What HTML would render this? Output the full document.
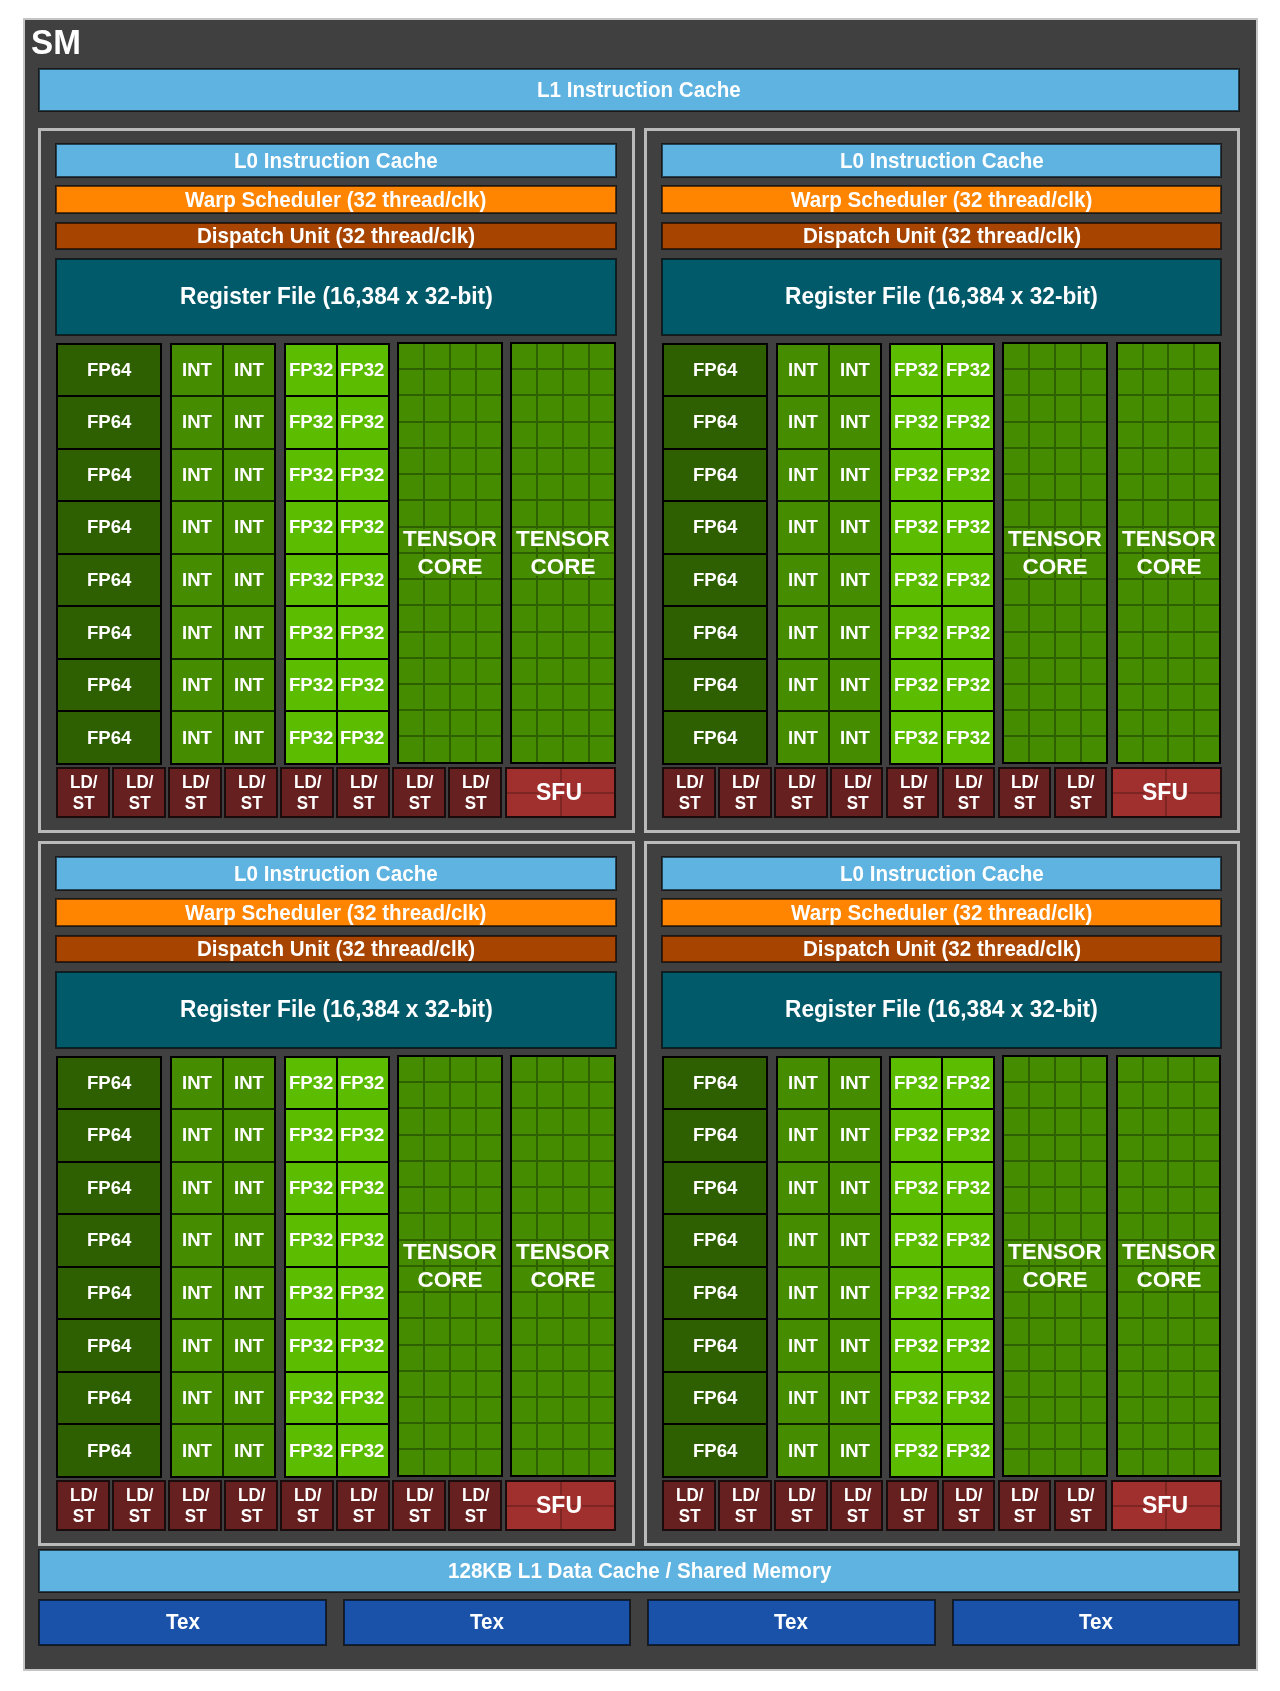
<!DOCTYPE html>
<html><head><meta charset="utf-8"><title>SM</title>
<style>
*{margin:0;padding:0;box-sizing:border-box}
html,body{width:1280px;height:1691px;background:#fff;overflow:hidden}
body{position:relative;font-family:"Liberation Sans",sans-serif;font-weight:bold;color:#fff}
div{position:absolute}
span,.tl,.smt{will-change:transform}
span{transform:scaleY(1.04)}
.sm{left:22.5px;top:18.1px;width:1235.6px;height:1653.1px;background:#404040;border:2px solid #c4c4c4}
.smt{left:31.0px;top:21.7px;font-size:33.2px;line-height:38px;transform:scaleY(1.06);transform-origin:0 0}
.quad{border:3px solid #bababa}
.bar{border:1px solid rgba(0,0,0,.6);background-clip:padding-box;box-shadow:inset 0 0 0 1px rgba(0,0,0,.62);display:flex;align-items:center;justify-content:center;white-space:nowrap}
.bar span{position:relative;display:inline-block}
.b-blue{background-color:#5fb3e1}
.b-orange{background-color:#ff8400}
.b-brown{background-color:#a64400}
.b-teal{background-color:#005a6a}
.b-tex{background-color:#1a52aa}
.t20{font-size:20.6px}
.t22{font-size:22.7px}
.ucol,.ucol2{border:2px solid #000;background:#000;display:grid;grid-template-rows:repeat(8,1fr);row-gap:2px}
.ucol{grid-template-columns:1fr}
.ucol2{grid-template-columns:1fr 1fr;column-gap:2px}
.ucol>div,.ucol2>div{position:static;display:flex;align-items:center;justify-content:center}
.fp64>div{background:#2e5f00}
.int{background:#0f2200}
.int>div{background:#468c00}
.fp32{background:#000}
.fp32>div{background:#5cbd00}
.u{font-size:18.6px;position:relative;top:0px;transform:scaleY(1.02)}
.ui{font-size:18.6px}
.tensor{border:2px solid #000;background:#468c00}
.tg{position:absolute;left:0;top:0;right:0;bottom:0;display:grid;grid-template-columns:repeat(4,1fr);grid-template-rows:repeat(16,1fr);gap:2px;background:#2e6000}
.tg i{background:#468c00}
.tl{left:0;right:0;top:180.8px;transform:scaleY(1.02);text-align:center;font-size:22.5px;line-height:27.6px;text-shadow:1.5px 0px 0 #468c00,-1.5px 0px 0 #468c00,0px 1.5px 0 #468c00,0px -1.5px 0 #468c00,1px 1px 0 #468c00,-1px 1px 0 #468c00,1px -1px 0 #468c00,-1px -1px 0 #468c00}
.ldst{border:2px solid #1a0c0c;background:#672020;display:flex;align-items:center;justify-content:center;text-align:center;font-size:17px;line-height:20.1px}
.sfu{border:2px solid #1a0c0c;background:#a0302e;display:flex;align-items:center;justify-content:center;font-size:23px}
.sg{position:absolute;left:0;top:0;right:0;bottom:0;display:grid;grid-template-columns:1fr 1fr;grid-template-rows:1fr 1fr;gap:2px;background:#7c2522}
.sg i{background:#a0302e}
.sfu span{position:relative;left:-1.5px;text-shadow:1.5px 0px 0 #a0302e,-1.5px 0px 0 #a0302e,0px 1.5px 0 #a0302e,0px -1.5px 0 #a0302e,1px 1px 0 #a0302e,-1px 1px 0 #a0302e,1px -1px 0 #a0302e,-1px -1px 0 #a0302e}
</style></head><body>
<div class="sm"></div>
<div class="smt">SM</div>
<div class="bar b-blue" style="left:38.10px;top:68.10px;width:1202.30px;height:43.50px;"><span class="t20">L1 Instruction Cache</span></div>

<div class="quad" style="left:38.10px;top:128.10px;width:597.00px;height:705.00px;"></div>
<div class="bar b-blue" style="left:55.10px;top:143.40px;width:561.60px;height:34.70px;"><span class="t20">L0 Instruction Cache</span></div>
<div class="bar b-orange" style="left:55.10px;top:185.30px;width:561.60px;height:28.50px;"><span class="t20">Warp Scheduler (32 thread/clk)</span></div>
<div class="bar b-brown" style="left:55.10px;top:221.90px;width:561.60px;height:27.90px;"><span class="t20">Dispatch Unit (32 thread/clk)</span></div>
<div class="bar b-teal" style="left:55.10px;top:258.10px;width:561.60px;height:77.50px;"><span class="t22">Register File (16,384 x 32-bit)</span></div>
<div class="ucol fp64" style="left:56.25px;top:342.50px;width:105.90px;height:422.40px;"><div><span class="u">FP64</span></div><div><span class="u">FP64</span></div><div><span class="u">FP64</span></div><div><span class="u">FP64</span></div><div><span class="u">FP64</span></div><div><span class="u">FP64</span></div><div><span class="u">FP64</span></div><div><span class="u">FP64</span></div></div>
<div class="ucol2 int" style="left:170.00px;top:342.50px;width:105.90px;height:422.40px;"><div><span class="u ui">INT</span></div><div><span class="u ui">INT</span></div><div><span class="u ui">INT</span></div><div><span class="u ui">INT</span></div><div><span class="u ui">INT</span></div><div><span class="u ui">INT</span></div><div><span class="u ui">INT</span></div><div><span class="u ui">INT</span></div><div><span class="u ui">INT</span></div><div><span class="u ui">INT</span></div><div><span class="u ui">INT</span></div><div><span class="u ui">INT</span></div><div><span class="u ui">INT</span></div><div><span class="u ui">INT</span></div><div><span class="u ui">INT</span></div><div><span class="u ui">INT</span></div></div>
<div class="ucol2 fp32" style="left:283.80px;top:342.50px;width:105.90px;height:422.40px;"><div><span class="u">FP32</span></div><div><span class="u">FP32</span></div><div><span class="u">FP32</span></div><div><span class="u">FP32</span></div><div><span class="u">FP32</span></div><div><span class="u">FP32</span></div><div><span class="u">FP32</span></div><div><span class="u">FP32</span></div><div><span class="u">FP32</span></div><div><span class="u">FP32</span></div><div><span class="u">FP32</span></div><div><span class="u">FP32</span></div><div><span class="u">FP32</span></div><div><span class="u">FP32</span></div><div><span class="u">FP32</span></div><div><span class="u">FP32</span></div></div>
<div class="tensor" style="left:396.70px;top:341.90px;width:105.90px;height:421.80px;"><div class="tg"><i></i><i></i><i></i><i></i><i></i><i></i><i></i><i></i><i></i><i></i><i></i><i></i><i></i><i></i><i></i><i></i><i></i><i></i><i></i><i></i><i></i><i></i><i></i><i></i><i></i><i></i><i></i><i></i><i></i><i></i><i></i><i></i><i></i><i></i><i></i><i></i><i></i><i></i><i></i><i></i><i></i><i></i><i></i><i></i><i></i><i></i><i></i><i></i><i></i><i></i><i></i><i></i><i></i><i></i><i></i><i></i><i></i><i></i><i></i><i></i><i></i><i></i><i></i><i></i></div><div class="tl">TENSOR<br>CORE</div></div>
<div class="tensor" style="left:509.90px;top:341.90px;width:105.90px;height:421.80px;"><div class="tg"><i></i><i></i><i></i><i></i><i></i><i></i><i></i><i></i><i></i><i></i><i></i><i></i><i></i><i></i><i></i><i></i><i></i><i></i><i></i><i></i><i></i><i></i><i></i><i></i><i></i><i></i><i></i><i></i><i></i><i></i><i></i><i></i><i></i><i></i><i></i><i></i><i></i><i></i><i></i><i></i><i></i><i></i><i></i><i></i><i></i><i></i><i></i><i></i><i></i><i></i><i></i><i></i><i></i><i></i><i></i><i></i><i></i><i></i><i></i><i></i><i></i><i></i><i></i><i></i></div><div class="tl">TENSOR<br>CORE</div></div>
<div class="ldst" style="left:56.40px;top:767.40px;width:53.60px;height:50.70px;"><span style="position:relative;left:0.6px">LD/<br>ST</span></div>
<div class="ldst" style="left:112.35px;top:767.40px;width:53.60px;height:50.70px;"><span style="position:relative;left:0.6px">LD/<br>ST</span></div>
<div class="ldst" style="left:168.30px;top:767.40px;width:53.60px;height:50.70px;"><span style="position:relative;left:0.6px">LD/<br>ST</span></div>
<div class="ldst" style="left:224.25px;top:767.40px;width:53.60px;height:50.70px;"><span style="position:relative;left:0.6px">LD/<br>ST</span></div>
<div class="ldst" style="left:280.20px;top:767.40px;width:53.60px;height:50.70px;"><span style="position:relative;left:0.6px">LD/<br>ST</span></div>
<div class="ldst" style="left:336.15px;top:767.40px;width:53.60px;height:50.70px;"><span style="position:relative;left:0.6px">LD/<br>ST</span></div>
<div class="ldst" style="left:392.10px;top:767.40px;width:53.60px;height:50.70px;"><span style="position:relative;left:0.6px">LD/<br>ST</span></div>
<div class="ldst" style="left:448.05px;top:767.40px;width:53.60px;height:50.70px;"><span style="position:relative;left:0.6px">LD/<br>ST</span></div>
<div class="sfu" style="left:505.30px;top:767.40px;width:110.60px;height:50.70px;"><div class="sg"><i></i><i></i><i></i><i></i></div><span>SFU</span></div>
<div class="quad" style="left:643.75px;top:128.10px;width:596.30px;height:705.00px;"></div>
<div class="bar b-blue" style="left:660.75px;top:143.40px;width:561.60px;height:34.70px;"><span class="t20">L0 Instruction Cache</span></div>
<div class="bar b-orange" style="left:660.75px;top:185.30px;width:561.60px;height:28.50px;"><span class="t20">Warp Scheduler (32 thread/clk)</span></div>
<div class="bar b-brown" style="left:660.75px;top:221.90px;width:561.60px;height:27.90px;"><span class="t20">Dispatch Unit (32 thread/clk)</span></div>
<div class="bar b-teal" style="left:660.75px;top:258.10px;width:561.60px;height:77.50px;"><span class="t22">Register File (16,384 x 32-bit)</span></div>
<div class="ucol fp64" style="left:661.90px;top:342.50px;width:105.90px;height:422.40px;"><div><span class="u">FP64</span></div><div><span class="u">FP64</span></div><div><span class="u">FP64</span></div><div><span class="u">FP64</span></div><div><span class="u">FP64</span></div><div><span class="u">FP64</span></div><div><span class="u">FP64</span></div><div><span class="u">FP64</span></div></div>
<div class="ucol2 int" style="left:775.65px;top:342.50px;width:105.90px;height:422.40px;"><div><span class="u ui">INT</span></div><div><span class="u ui">INT</span></div><div><span class="u ui">INT</span></div><div><span class="u ui">INT</span></div><div><span class="u ui">INT</span></div><div><span class="u ui">INT</span></div><div><span class="u ui">INT</span></div><div><span class="u ui">INT</span></div><div><span class="u ui">INT</span></div><div><span class="u ui">INT</span></div><div><span class="u ui">INT</span></div><div><span class="u ui">INT</span></div><div><span class="u ui">INT</span></div><div><span class="u ui">INT</span></div><div><span class="u ui">INT</span></div><div><span class="u ui">INT</span></div></div>
<div class="ucol2 fp32" style="left:889.45px;top:342.50px;width:105.90px;height:422.40px;"><div><span class="u">FP32</span></div><div><span class="u">FP32</span></div><div><span class="u">FP32</span></div><div><span class="u">FP32</span></div><div><span class="u">FP32</span></div><div><span class="u">FP32</span></div><div><span class="u">FP32</span></div><div><span class="u">FP32</span></div><div><span class="u">FP32</span></div><div><span class="u">FP32</span></div><div><span class="u">FP32</span></div><div><span class="u">FP32</span></div><div><span class="u">FP32</span></div><div><span class="u">FP32</span></div><div><span class="u">FP32</span></div><div><span class="u">FP32</span></div></div>
<div class="tensor" style="left:1002.35px;top:341.90px;width:105.90px;height:421.80px;"><div class="tg"><i></i><i></i><i></i><i></i><i></i><i></i><i></i><i></i><i></i><i></i><i></i><i></i><i></i><i></i><i></i><i></i><i></i><i></i><i></i><i></i><i></i><i></i><i></i><i></i><i></i><i></i><i></i><i></i><i></i><i></i><i></i><i></i><i></i><i></i><i></i><i></i><i></i><i></i><i></i><i></i><i></i><i></i><i></i><i></i><i></i><i></i><i></i><i></i><i></i><i></i><i></i><i></i><i></i><i></i><i></i><i></i><i></i><i></i><i></i><i></i><i></i><i></i><i></i><i></i></div><div class="tl">TENSOR<br>CORE</div></div>
<div class="tensor" style="left:1115.55px;top:341.90px;width:105.90px;height:421.80px;"><div class="tg"><i></i><i></i><i></i><i></i><i></i><i></i><i></i><i></i><i></i><i></i><i></i><i></i><i></i><i></i><i></i><i></i><i></i><i></i><i></i><i></i><i></i><i></i><i></i><i></i><i></i><i></i><i></i><i></i><i></i><i></i><i></i><i></i><i></i><i></i><i></i><i></i><i></i><i></i><i></i><i></i><i></i><i></i><i></i><i></i><i></i><i></i><i></i><i></i><i></i><i></i><i></i><i></i><i></i><i></i><i></i><i></i><i></i><i></i><i></i><i></i><i></i><i></i><i></i><i></i></div><div class="tl">TENSOR<br>CORE</div></div>
<div class="ldst" style="left:662.05px;top:767.40px;width:53.60px;height:50.70px;"><span style="position:relative;left:0.6px">LD/<br>ST</span></div>
<div class="ldst" style="left:718.00px;top:767.40px;width:53.60px;height:50.70px;"><span style="position:relative;left:0.6px">LD/<br>ST</span></div>
<div class="ldst" style="left:773.95px;top:767.40px;width:53.60px;height:50.70px;"><span style="position:relative;left:0.6px">LD/<br>ST</span></div>
<div class="ldst" style="left:829.90px;top:767.40px;width:53.60px;height:50.70px;"><span style="position:relative;left:0.6px">LD/<br>ST</span></div>
<div class="ldst" style="left:885.85px;top:767.40px;width:53.60px;height:50.70px;"><span style="position:relative;left:0.6px">LD/<br>ST</span></div>
<div class="ldst" style="left:941.80px;top:767.40px;width:53.60px;height:50.70px;"><span style="position:relative;left:0.6px">LD/<br>ST</span></div>
<div class="ldst" style="left:997.75px;top:767.40px;width:53.60px;height:50.70px;"><span style="position:relative;left:0.6px">LD/<br>ST</span></div>
<div class="ldst" style="left:1053.70px;top:767.40px;width:53.60px;height:50.70px;"><span style="position:relative;left:0.6px">LD/<br>ST</span></div>
<div class="sfu" style="left:1110.95px;top:767.40px;width:110.60px;height:50.70px;"><div class="sg"><i></i><i></i><i></i><i></i></div><span>SFU</span></div>
<div class="quad" style="left:38.10px;top:841.10px;width:597.00px;height:705.00px;"></div>
<div class="bar b-blue" style="left:55.10px;top:856.40px;width:561.60px;height:34.70px;"><span class="t20">L0 Instruction Cache</span></div>
<div class="bar b-orange" style="left:55.10px;top:898.30px;width:561.60px;height:28.50px;"><span class="t20">Warp Scheduler (32 thread/clk)</span></div>
<div class="bar b-brown" style="left:55.10px;top:934.90px;width:561.60px;height:27.90px;"><span class="t20">Dispatch Unit (32 thread/clk)</span></div>
<div class="bar b-teal" style="left:55.10px;top:971.10px;width:561.60px;height:77.50px;"><span class="t22">Register File (16,384 x 32-bit)</span></div>
<div class="ucol fp64" style="left:56.25px;top:1055.50px;width:105.90px;height:422.40px;"><div><span class="u">FP64</span></div><div><span class="u">FP64</span></div><div><span class="u">FP64</span></div><div><span class="u">FP64</span></div><div><span class="u">FP64</span></div><div><span class="u">FP64</span></div><div><span class="u">FP64</span></div><div><span class="u">FP64</span></div></div>
<div class="ucol2 int" style="left:170.00px;top:1055.50px;width:105.90px;height:422.40px;"><div><span class="u ui">INT</span></div><div><span class="u ui">INT</span></div><div><span class="u ui">INT</span></div><div><span class="u ui">INT</span></div><div><span class="u ui">INT</span></div><div><span class="u ui">INT</span></div><div><span class="u ui">INT</span></div><div><span class="u ui">INT</span></div><div><span class="u ui">INT</span></div><div><span class="u ui">INT</span></div><div><span class="u ui">INT</span></div><div><span class="u ui">INT</span></div><div><span class="u ui">INT</span></div><div><span class="u ui">INT</span></div><div><span class="u ui">INT</span></div><div><span class="u ui">INT</span></div></div>
<div class="ucol2 fp32" style="left:283.80px;top:1055.50px;width:105.90px;height:422.40px;"><div><span class="u">FP32</span></div><div><span class="u">FP32</span></div><div><span class="u">FP32</span></div><div><span class="u">FP32</span></div><div><span class="u">FP32</span></div><div><span class="u">FP32</span></div><div><span class="u">FP32</span></div><div><span class="u">FP32</span></div><div><span class="u">FP32</span></div><div><span class="u">FP32</span></div><div><span class="u">FP32</span></div><div><span class="u">FP32</span></div><div><span class="u">FP32</span></div><div><span class="u">FP32</span></div><div><span class="u">FP32</span></div><div><span class="u">FP32</span></div></div>
<div class="tensor" style="left:396.70px;top:1054.90px;width:105.90px;height:421.80px;"><div class="tg"><i></i><i></i><i></i><i></i><i></i><i></i><i></i><i></i><i></i><i></i><i></i><i></i><i></i><i></i><i></i><i></i><i></i><i></i><i></i><i></i><i></i><i></i><i></i><i></i><i></i><i></i><i></i><i></i><i></i><i></i><i></i><i></i><i></i><i></i><i></i><i></i><i></i><i></i><i></i><i></i><i></i><i></i><i></i><i></i><i></i><i></i><i></i><i></i><i></i><i></i><i></i><i></i><i></i><i></i><i></i><i></i><i></i><i></i><i></i><i></i><i></i><i></i><i></i><i></i></div><div class="tl">TENSOR<br>CORE</div></div>
<div class="tensor" style="left:509.90px;top:1054.90px;width:105.90px;height:421.80px;"><div class="tg"><i></i><i></i><i></i><i></i><i></i><i></i><i></i><i></i><i></i><i></i><i></i><i></i><i></i><i></i><i></i><i></i><i></i><i></i><i></i><i></i><i></i><i></i><i></i><i></i><i></i><i></i><i></i><i></i><i></i><i></i><i></i><i></i><i></i><i></i><i></i><i></i><i></i><i></i><i></i><i></i><i></i><i></i><i></i><i></i><i></i><i></i><i></i><i></i><i></i><i></i><i></i><i></i><i></i><i></i><i></i><i></i><i></i><i></i><i></i><i></i><i></i><i></i><i></i><i></i></div><div class="tl">TENSOR<br>CORE</div></div>
<div class="ldst" style="left:56.40px;top:1480.40px;width:53.60px;height:50.70px;"><span style="position:relative;left:0.6px">LD/<br>ST</span></div>
<div class="ldst" style="left:112.35px;top:1480.40px;width:53.60px;height:50.70px;"><span style="position:relative;left:0.6px">LD/<br>ST</span></div>
<div class="ldst" style="left:168.30px;top:1480.40px;width:53.60px;height:50.70px;"><span style="position:relative;left:0.6px">LD/<br>ST</span></div>
<div class="ldst" style="left:224.25px;top:1480.40px;width:53.60px;height:50.70px;"><span style="position:relative;left:0.6px">LD/<br>ST</span></div>
<div class="ldst" style="left:280.20px;top:1480.40px;width:53.60px;height:50.70px;"><span style="position:relative;left:0.6px">LD/<br>ST</span></div>
<div class="ldst" style="left:336.15px;top:1480.40px;width:53.60px;height:50.70px;"><span style="position:relative;left:0.6px">LD/<br>ST</span></div>
<div class="ldst" style="left:392.10px;top:1480.40px;width:53.60px;height:50.70px;"><span style="position:relative;left:0.6px">LD/<br>ST</span></div>
<div class="ldst" style="left:448.05px;top:1480.40px;width:53.60px;height:50.70px;"><span style="position:relative;left:0.6px">LD/<br>ST</span></div>
<div class="sfu" style="left:505.30px;top:1480.40px;width:110.60px;height:50.70px;"><div class="sg"><i></i><i></i><i></i><i></i></div><span>SFU</span></div>
<div class="quad" style="left:643.75px;top:841.10px;width:596.30px;height:705.00px;"></div>
<div class="bar b-blue" style="left:660.75px;top:856.40px;width:561.60px;height:34.70px;"><span class="t20">L0 Instruction Cache</span></div>
<div class="bar b-orange" style="left:660.75px;top:898.30px;width:561.60px;height:28.50px;"><span class="t20">Warp Scheduler (32 thread/clk)</span></div>
<div class="bar b-brown" style="left:660.75px;top:934.90px;width:561.60px;height:27.90px;"><span class="t20">Dispatch Unit (32 thread/clk)</span></div>
<div class="bar b-teal" style="left:660.75px;top:971.10px;width:561.60px;height:77.50px;"><span class="t22">Register File (16,384 x 32-bit)</span></div>
<div class="ucol fp64" style="left:661.90px;top:1055.50px;width:105.90px;height:422.40px;"><div><span class="u">FP64</span></div><div><span class="u">FP64</span></div><div><span class="u">FP64</span></div><div><span class="u">FP64</span></div><div><span class="u">FP64</span></div><div><span class="u">FP64</span></div><div><span class="u">FP64</span></div><div><span class="u">FP64</span></div></div>
<div class="ucol2 int" style="left:775.65px;top:1055.50px;width:105.90px;height:422.40px;"><div><span class="u ui">INT</span></div><div><span class="u ui">INT</span></div><div><span class="u ui">INT</span></div><div><span class="u ui">INT</span></div><div><span class="u ui">INT</span></div><div><span class="u ui">INT</span></div><div><span class="u ui">INT</span></div><div><span class="u ui">INT</span></div><div><span class="u ui">INT</span></div><div><span class="u ui">INT</span></div><div><span class="u ui">INT</span></div><div><span class="u ui">INT</span></div><div><span class="u ui">INT</span></div><div><span class="u ui">INT</span></div><div><span class="u ui">INT</span></div><div><span class="u ui">INT</span></div></div>
<div class="ucol2 fp32" style="left:889.45px;top:1055.50px;width:105.90px;height:422.40px;"><div><span class="u">FP32</span></div><div><span class="u">FP32</span></div><div><span class="u">FP32</span></div><div><span class="u">FP32</span></div><div><span class="u">FP32</span></div><div><span class="u">FP32</span></div><div><span class="u">FP32</span></div><div><span class="u">FP32</span></div><div><span class="u">FP32</span></div><div><span class="u">FP32</span></div><div><span class="u">FP32</span></div><div><span class="u">FP32</span></div><div><span class="u">FP32</span></div><div><span class="u">FP32</span></div><div><span class="u">FP32</span></div><div><span class="u">FP32</span></div></div>
<div class="tensor" style="left:1002.35px;top:1054.90px;width:105.90px;height:421.80px;"><div class="tg"><i></i><i></i><i></i><i></i><i></i><i></i><i></i><i></i><i></i><i></i><i></i><i></i><i></i><i></i><i></i><i></i><i></i><i></i><i></i><i></i><i></i><i></i><i></i><i></i><i></i><i></i><i></i><i></i><i></i><i></i><i></i><i></i><i></i><i></i><i></i><i></i><i></i><i></i><i></i><i></i><i></i><i></i><i></i><i></i><i></i><i></i><i></i><i></i><i></i><i></i><i></i><i></i><i></i><i></i><i></i><i></i><i></i><i></i><i></i><i></i><i></i><i></i><i></i><i></i></div><div class="tl">TENSOR<br>CORE</div></div>
<div class="tensor" style="left:1115.55px;top:1054.90px;width:105.90px;height:421.80px;"><div class="tg"><i></i><i></i><i></i><i></i><i></i><i></i><i></i><i></i><i></i><i></i><i></i><i></i><i></i><i></i><i></i><i></i><i></i><i></i><i></i><i></i><i></i><i></i><i></i><i></i><i></i><i></i><i></i><i></i><i></i><i></i><i></i><i></i><i></i><i></i><i></i><i></i><i></i><i></i><i></i><i></i><i></i><i></i><i></i><i></i><i></i><i></i><i></i><i></i><i></i><i></i><i></i><i></i><i></i><i></i><i></i><i></i><i></i><i></i><i></i><i></i><i></i><i></i><i></i><i></i></div><div class="tl">TENSOR<br>CORE</div></div>
<div class="ldst" style="left:662.05px;top:1480.40px;width:53.60px;height:50.70px;"><span style="position:relative;left:0.6px">LD/<br>ST</span></div>
<div class="ldst" style="left:718.00px;top:1480.40px;width:53.60px;height:50.70px;"><span style="position:relative;left:0.6px">LD/<br>ST</span></div>
<div class="ldst" style="left:773.95px;top:1480.40px;width:53.60px;height:50.70px;"><span style="position:relative;left:0.6px">LD/<br>ST</span></div>
<div class="ldst" style="left:829.90px;top:1480.40px;width:53.60px;height:50.70px;"><span style="position:relative;left:0.6px">LD/<br>ST</span></div>
<div class="ldst" style="left:885.85px;top:1480.40px;width:53.60px;height:50.70px;"><span style="position:relative;left:0.6px">LD/<br>ST</span></div>
<div class="ldst" style="left:941.80px;top:1480.40px;width:53.60px;height:50.70px;"><span style="position:relative;left:0.6px">LD/<br>ST</span></div>
<div class="ldst" style="left:997.75px;top:1480.40px;width:53.60px;height:50.70px;"><span style="position:relative;left:0.6px">LD/<br>ST</span></div>
<div class="ldst" style="left:1053.70px;top:1480.40px;width:53.60px;height:50.70px;"><span style="position:relative;left:0.6px">LD/<br>ST</span></div>
<div class="sfu" style="left:1110.95px;top:1480.40px;width:110.60px;height:50.70px;"><div class="sg"><i></i><i></i><i></i><i></i></div><span>SFU</span></div>

<div class="bar b-blue" style="left:38.30px;top:1549.30px;width:1202.10px;height:43.50px;"><span class="t20">128KB L1 Data Cache / Shared Memory</span></div>

<div class="bar b-tex" style="left:38.30px;top:1599.10px;width:288.50px;height:47.40px;"><span class="t20" style="top:-0.4px">Tex</span></div>
<div class="bar b-tex" style="left:342.75px;top:1599.10px;width:288.50px;height:47.40px;"><span class="t20" style="top:-0.4px">Tex</span></div>
<div class="bar b-tex" style="left:647.20px;top:1599.10px;width:288.50px;height:47.40px;"><span class="t20" style="top:-0.4px">Tex</span></div>
<div class="bar b-tex" style="left:951.65px;top:1599.10px;width:288.50px;height:47.40px;"><span class="t20" style="top:-0.4px">Tex</span></div>

</body></html>
